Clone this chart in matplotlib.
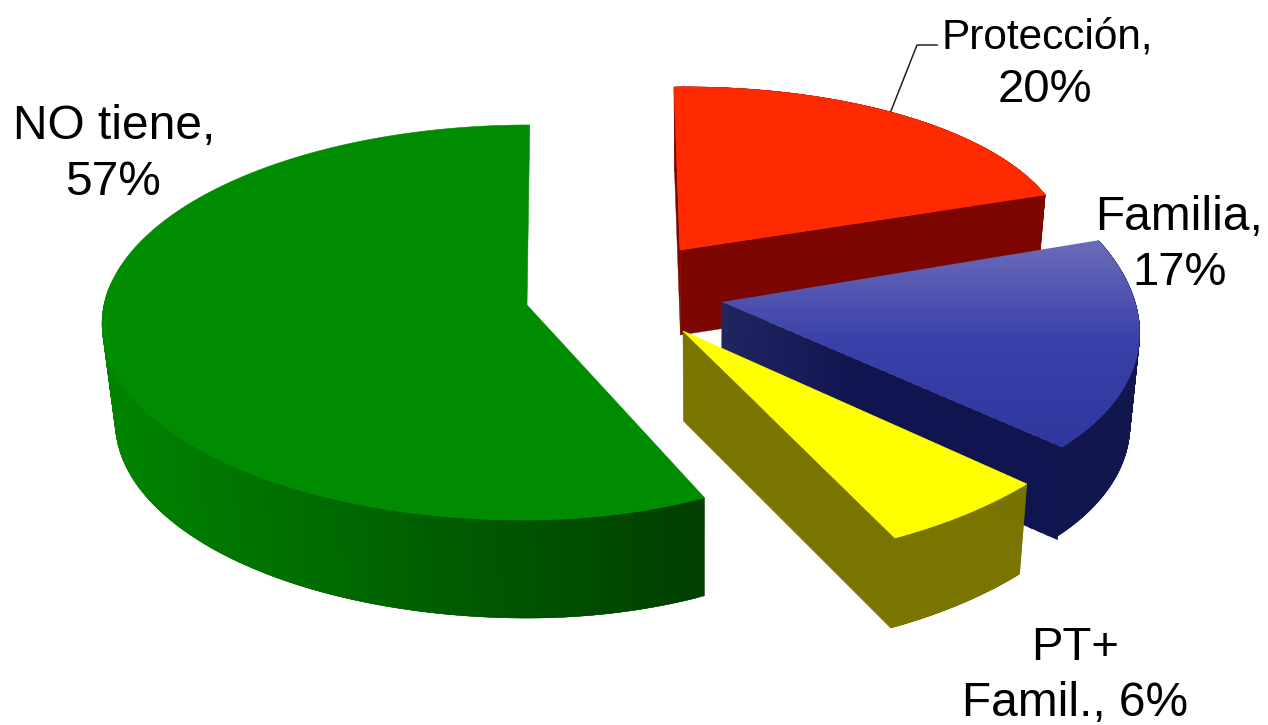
import numpy as np
import matplotlib
matplotlib.use("Agg")
import matplotlib.pyplot as plt
from matplotlib.patches import Polygon
from matplotlib.colors import LinearSegmentedColormap, to_rgb

plt.rcParams['font.family'] = ['Liberation Sans', 'DejaVu Sans']

# data: clockwise from 12 o'clock
categories = ["Protección", "Familia", "PT+ Famil.", "NO tiene"]
shares = [20, 17, 6, 57]

# label lines (text, center x, baseline y, size)
label_lines = [
    ("Protección,", 1047, 48, 30.5),
    ("20%", 1045, 102, 34),
    ("Familia,", 1179, 230, 34.5),
    ("17%", 1180, 285, 34),
    ("PT+", 1075, 660, 34),
    ("Famil., 6%", 1075, 716, 34.5),
    ("NO tiene,", 114, 139, 34.5),
    ("57%", 113, 195, 34.5),
]

# per-slice projection of the unit pie onto the page (layout only)
geom = {
    "Protección": dict(ax=680, ay=250, R=386, Rr=386, s=-6, r=163, t=5, k=0, depth=85, hide=2),
    "Familia":    dict(ax=722, ay=302, R=414, Rr=414, s=-56, r=209, t=-3, k=0, depth=91, hide=2),
    "PT+ Famil.": dict(ax=683, ay=331, R=451, Rr=451, s=-22, r=233, t=9, k=0, depth=90, hide=2),
    "NO tiene":   dict(ax=527, ay=305, R=423, Rr=390, s=3, r=196, t=0, k=0.0886, depth=98, hide=0.1),
}
style = {
    "Protección": dict(top="#ff2a00", wall=("#7d0700", "#7d0700"), walls=(True, True)),
    "Familia":    dict(top=("#6b6cb8", "#3a40a9", "#2f379f"), wall=("#12164f", "#12164f"), walls=(False, True)),
    "PT+ Famil.": dict(top="#ffff00", wall=("#7a7400", "#7a7400"), walls=(False, True)),
    "NO tiene":   dict(top="#008c00", wall=("#008400", "#003f00"), walls=(False, False)),
}
VX, CONV = 700.0, 0.022


def project(g, ang):
    X, Y = np.sin(ang), np.cos(ang)
    w = 1 + g["k"] * Y
    Rad = np.where(X > 0, g["Rr"], g["R"])
    return (g["ax"] + (Rad * X + g["s"] * Y) / w,
            g["ay"] - (g["r"] * Y + g["t"] * X) / w)


def drop(g, x, y):
    return x + (VX - x) * CONV, y + g["depth"]


def mix(a, b, f):
    a, b = np.array(to_rgb(a)), np.array(to_rgb(b))
    return tuple(a + (b - a) * f)


fig = plt.figure(figsize=(12.68, 7.25), dpi=100, facecolor="white")
ax = fig.add_axes([0, 0, 1, 1])
ax.set_xlim(0, 1268)
ax.set_ylim(725, 0)
ax.axis("off")

# leader line of the Protección label, under the slice
ax.plot([889, 917, 937], [116, 45, 45], color="#222222", lw=1.1, zorder=1)

bounds = np.cumsum([0] + shares) / sum(shares) * 2 * np.pi
z = 2
for name, a0, a1 in zip(categories, bounds[:-1], bounds[1:]):
    g, st = geom[name], style[name]
    th = np.linspace(a0, a1, 240)
    xs, ys = project(g, th)
    bx, by = drop(g, xs, ys)
    cx, cy = g["ax"], g["ay"]
    dcx, dcy = drop(g, cx, cy)

    # radial walls
    for show, i in zip(st["walls"], (0, -1)):
        if not show:
            continue
        if name == "Familia":
            n = 40
            for j in range(n):
                p, q = j / n, (j + 1) / n + 0.01
                px0, py0 = cx + (xs[i] - cx) * p, cy + (ys[i] - cy) * p
                px1, py1 = cx + (xs[i] - cx) * q, cy + (ys[i] - cy) * q
                qx0, qy0 = drop(g, px0, py0)
                qx1, qy1 = drop(g, px1, py1)
                col = mix("#20245f", "#10144f", min(p * 2.5, 1))
                ax.add_patch(Polygon([(px0, py0), (px1, py1), (qx1, qy1), (qx0, qy0)],
                                     fc=col, ec=col, lw=0.3, zorder=z))
        else:
            ax.add_patch(Polygon([(cx, cy), (xs[i], ys[i]), (bx[i], by[i]), (dcx, dcy)],
                                 fc=st["wall"][0], ec=st["wall"][0], lw=0.3, zorder=z))
    # outer wall
    xmin, xmax = xs.min(), xs.max()
    for i in range(len(th) - 1):
        if np.cos(th[i]) > g["hide"]:
            continue
        f = (xs[i] - xmin) / max(xmax - xmin, 1)
        j = min(i + 2, len(th) - 1)
        col = mix(st["wall"][0], st["wall"][1], f)
        ax.add_patch(Polygon([(xs[i], ys[i]), (xs[j], ys[j]), (bx[j], by[j]), (bx[i], by[i])],
                             fc=col, ec=col, lw=0.3, zorder=z))
    # top face
    verts = np.vstack([[cx, cy], np.column_stack([xs, ys])])
    if isinstance(st["top"], tuple):
        cmap = LinearSegmentedColormap.from_list("top", st["top"])
        ymin, ymax = ys.min(), ys.max()
        grad = np.linspace(0, 1, 256)[:, None]
        xl, xr = verts[:, 0].min(), verts[:, 0].max()
        im = ax.imshow(grad, cmap=cmap, extent=(xl, xr, ymax, ymin), aspect="auto",
                       zorder=z + 0.5, interpolation="bilinear")
        clip = Polygon(verts, transform=ax.transData, fc="none", ec="none")
        ax.add_patch(clip)
        im.set_clip_path(clip)
    else:
        ax.add_patch(Polygon(verts, fc=st["top"], ec=st["top"], lw=0.4, zorder=z + 0.5))
    z += 1

ax.set_xlim(0, 1268)
ax.set_ylim(725, 0)

for txt, x, y, size in label_lines:
    ax.text(x, y, txt, ha="center", va="baseline", fontsize=size, color="black", zorder=20)

fig.savefig("out.png", dpi=100, facecolor="white")
